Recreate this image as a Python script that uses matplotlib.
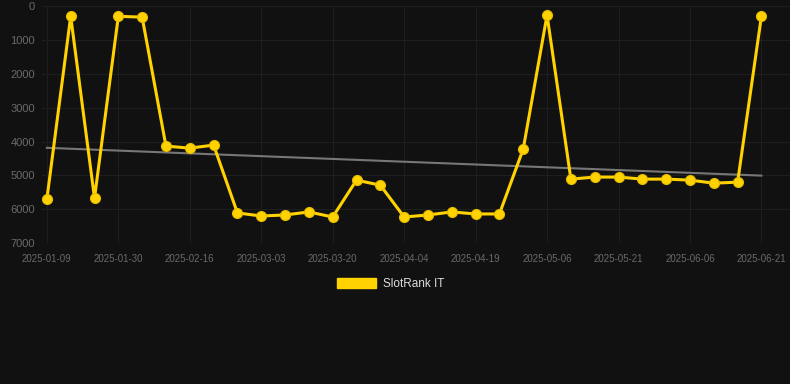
import matplotlib

matplotlib.use("Agg")
import matplotlib.pyplot as plt
import numpy as np
from matplotlib.patches import Patch

# weekly SlotRank IT positions (lower is better, axis inverted)
ranks = [5700, 300, 5670, 300, 325, 4135, 4195, 4105, 6110, 6200,
         6170, 6080, 6230, 5140, 5290, 6230, 6170, 6080, 6140, 6140,
         4220, 265, 5110, 5050, 5050, 5110, 5110, 5140, 5230, 5200, 295]
tick_labels = ["2025-01-09", "2025-01-30", "2025-02-16", "2025-03-03",
               "2025-03-20", "2025-04-04", "2025-04-19", "2025-05-06",
               "2025-05-21", "2025-06-06", "2025-06-21"]
y_ticks = [0, 1000, 2000, 3000, 4000, 5000, 6000, 7000]

BG = "#111111"
GOLD = "#ffd200"

plt.rcParams["font.family"] = ["Liberation Sans", "DejaVu Sans"]

fig = plt.figure(figsize=(7.9, 3.84), dpi=100, facecolor=BG)
ax = fig.add_axes([0.053, 0.367, 0.947, 0.617], facecolor=BG)

x = np.arange(len(ranks))
coef = np.polyfit(x, ranks, 1)
ax.plot(x, np.polyval(coef, x), color="#777777", linewidth=1.5, zorder=2)
ax.plot(x, ranks, color=GOLD, linewidth=2.2, marker="o", markersize=7.2,
        markeredgecolor="#e6bc00", markeredgewidth=0.8,
        solid_joinstyle="miter", zorder=3)

ax.set_xlim(-0.21, 31.2)
ax.set_ylim(7000, 0)
ax.set_xticks(x[::3], tick_labels)
ax.set_yticks(y_ticks, [str(v) for v in y_ticks])
ax.tick_params(axis="x", colors="#6a6a6a", labelsize=7, length=0, pad=8)
ax.tick_params(axis="y", colors="#6a6a6a", labelsize=8, length=0, pad=5)
ax.grid(True, color="#1e1e1e", linewidth=0.8)
for spine in ax.spines.values():
    spine.set_visible(False)

fig.legend(handles=[Patch(facecolor=GOLD, edgecolor=GOLD, label="SlotRank IT")],
           loc="center", bbox_to_anchor=(0.494, 0.26), frameon=False,
           handlelength=3.3, handleheight=0.9, fontsize=8.5,
           labelcolor="#dddddd", handletextpad=0.6)

fig.savefig("out.png", dpi=100, facecolor=BG)
plt.close(fig)
